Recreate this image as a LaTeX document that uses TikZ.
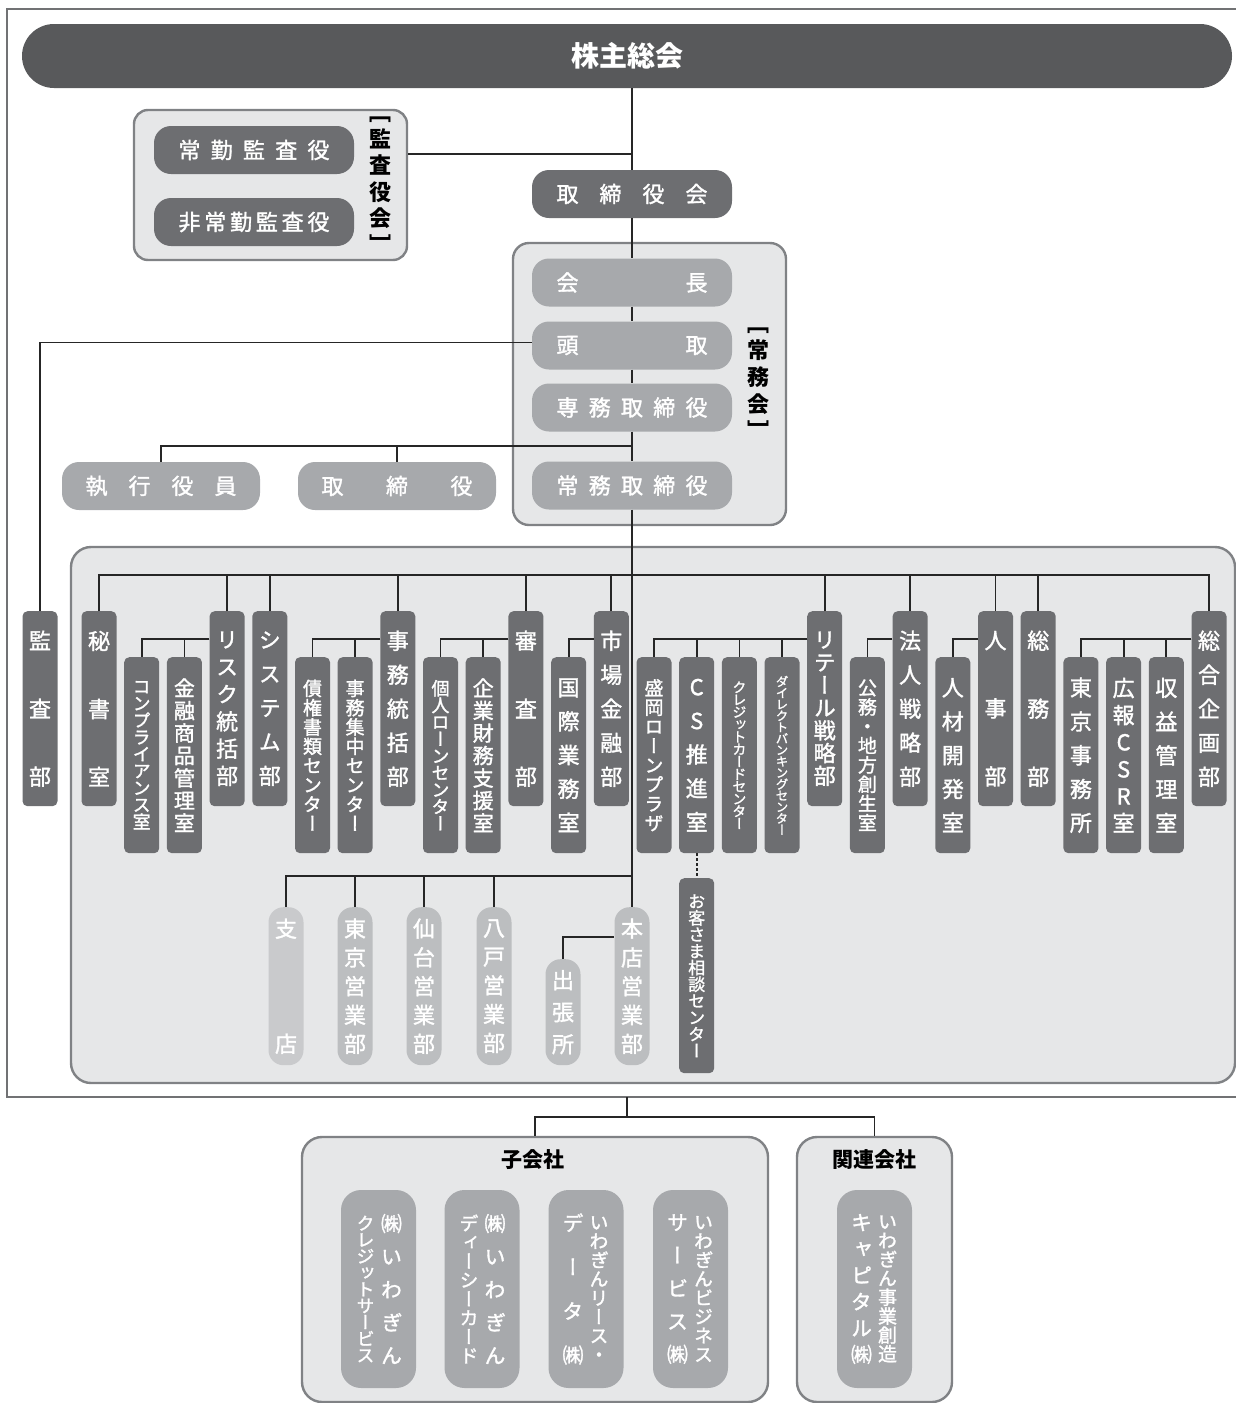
\documentclass[tikz,border=0pt]{standalone}
\usepackage{fontspec}
\setmainfont{Noto Sans CJK JP}[UprightFeatures={FakeBold=1.5}]
\newfontfamily\jpv{Noto Sans CJK JP}[RawFeature=+vert,UprightFeatures={FakeBold=1.5}]
\usetikzlibrary{positioning}

\definecolor{bar}{HTML}{58595B}
\definecolor{dk}{HTML}{6D6E71}
\definecolor{md}{HTML}{A7A9AC}
\definecolor{lt}{HTML}{BCBEC0}
\definecolor{pale}{HTML}{C9CACC}
\definecolor{grp}{HTML}{E6E7E8}
\definecolor{edge}{HTML}{808285}

\lineskiplimit=-100pt
% one vertical column of text: size, line skip, text
\newcommand\vcol[3]{\parbox[c]{22pt}{\centering\fontsize{#1}{#2}\selectfont #3}}

\begin{document}
\begin{tikzpicture}[x=1pt,y=-1pt,
  conn/.style={draw=black!85,line width=1.8},
  grpbox/.style={draw=edge,fill=grp,line width=2.4,rounded corners=16,inner sep=0},
  pill/.style={rounded corners=17,inner sep=0,minimum width=200,minimum height=48,text width=151,align=center,text=white,font=\fontsize{22}{26}\selectfont},
  dept/.style={fill=dk,text=white,rounded corners=5,minimum width=35,inner sep=0,align=center,anchor=north},
  branch/.style={fill=lt,text=white,rounded corners=15,minimum width=35,inner sep=0,align=center,anchor=north},
  vt/.style 2 args={font=\jpv\fontsize{#1}{#2}\selectfont},
  grplabel/.style={inner sep=0,align=center,font=\jpv\bfseries\fontsize{22}{#1}\selectfont},
  company/.style={fill=md,text=white,rounded corners=20,minimum width=75,minimum height=198,inner sep=0,font=\jpv}]
\useasboundingbox (0,0) rectangle (1236,1403);
\draw[line width=1.5,draw=bar!85] (1236,9) -- (7,9) -- (7,1097) -- (1236,1097);

% shareholders and board
\node[fill=bar,text=white,rounded corners=32,minimum width=1210,minimum height=64,font=\bfseries\fontsize{28}{32}\selectfont] (kabunushi) at (627,56) {株主総会};
\node[grpbox,rounded corners=14,minimum width=273,minimum height=150] (kansabox) at (270.5,185) {};
\node[pill,fill=dk] (jokin) at (254,150) {常\hfill 勤\hfill 監\hfill 査\hfill 役};
\node[pill,fill=dk] (hijokin) at (254,222) {非\hfill 常\hfill 勤\hfill 監\hfill 査\hfill 役};
\node[grplabel=26.5] (kansayakukai) at (380,185) {［\\監\\査\\役\\会\\］};
\node[pill,fill=dk] (torikai) at (632,194) {取\hfill 締\hfill 役\hfill 会};

\node[grpbox,minimum width=273,minimum height=282] (jomukai) at (649.5,384) {};
\node[pill,fill=md] (kaicho) at (632,282.5) {会\hfill 長};
\node[pill,fill=md] (todori) at (632,345.5) {頭\hfill 取};
\node[pill,fill=md] (senmu) at (632,407.5) {専\hfill 務\hfill 取\hfill 締\hfill 役};
\node[pill,fill=md] (jomu) at (632,485.5) {常\hfill 務\hfill 取\hfill 締\hfill 役};
\node[grplabel=27] (jomukailabel) at (758,384) {［\\常\\務\\会\\］};
\node[pill,fill=md,minimum width=198] (shikko) at (161,486) {執\hfill 行\hfill 役\hfill 員};
\node[pill,fill=md,minimum width=198] (torishimari) at (397,486) {取\hfill 締\hfill 役};

% departments
\node[grpbox,rounded corners=20,minimum width=1164,minimum height=536] (deptbox) at (653,815) {};
\node[dept,minimum height=195,vt={22}{68}] (kansabu) at (40,611) {監\\査\\部};
\node[dept,minimum height=195,vt={22}{68}] (hisho) at (99,611) {秘\\書\\室};
\node[dept,minimum height=195,vt={22}{27.3}] (risk) at (227.1,611) {リ\\ス\\ク\\統\\括\\部};
\node[dept,minimum height=195,vt={22}{34}] (system) at (269.8,611) {シ\\ス\\テ\\ム\\部};
\node[dept,minimum height=195,vt={22}{34}] (jimu) at (397.8,611) {事\\務\\統\\括\\部};
\node[dept,minimum height=195,vt={22}{68}] (shinsa) at (525.9,611) {審\\査\\部};
\node[dept,minimum height=195,vt={22}{34}] (shijo) at (611.3,611) {市\\場\\金\\融\\部};
\node[dept,minimum height=195,vt={22}{22.7}] (retail) at (824.7,611) {リ\\テ\\ー\\ル\\戦\\略\\部};
\node[dept,minimum height=195,vt={22}{34}] (hojin) at (910.1,611) {法\\人\\戦\\略\\部};
\node[dept,minimum height=195,vt={22}{68}] (jinji) at (995.5,611) {人\\事\\部};
\node[dept,minimum height=195,vt={22}{68}] (somu) at (1038.2,611) {総\\務\\部};
\node[dept,minimum height=195,vt={22}{34}] (kikaku) at (1209,611) {総\\合\\企\\画\\部};

\node[dept,minimum height=196,vt={18}{16.9}] (comp) at (141.7,657) {コ\\ン\\プ\\ラ\\イ\\ア\\ン\\ス\\室};
\node[dept,minimum height=196,vt={21}{22.5}] (kinyu) at (184.4,657) {金\\融\\商\\品\\管\\理\\室};
\node[dept,minimum height=196,vt={19}{19.3}] (saiken) at (312.5,657) {債\\権\\書\\類\\セ\\ン\\タ\\ー};
\node[dept,minimum height=196,vt={19}{19.3}] (shuchu) at (355.1,657) {事\\務\\集\\中\\セ\\ン\\タ\\ー};
\node[dept,minimum height=196,vt={18}{16.9}] (kojin) at (440.5,657) {個\\人\\ロ\\ー\\ン\\セ\\ン\\タ\\ー};
\node[dept,minimum height=196,vt={21}{22.5}] (kigyo) at (483.2,657) {企\\業\\財\\務\\支\\援\\室};
\node[dept,minimum height=196,vt={22}{33.8}] (kokusai) at (568.6,657) {国\\際\\業\\務\\室};
\node[dept,minimum height=196,vt={19}{19.3}] (morioka) at (654,657) {盛\\岡\\ロ\\ー\\ン\\プ\\ラ\\ザ};
\node[dept,minimum height=196,vt={22}{33.8}] (cs) at (696.7,657) {C\\S\\推\\進\\室};
\node[dept,minimum height=196,vt={14}{12.4}] (credit) at (739.4,657) {ク\\レ\\ジ\\ッ\\ト\\カ\\ー\\ド\\セ\\ン\\タ\\ー};
\node[dept,minimum height=196,vt={12.5}{11.4}] (direct) at (782,657) {ダ\\イ\\レ\\ク\\ト\\バ\\ン\\キ\\ン\\グ\\セ\\ン\\タ\\ー};
\node[dept,minimum height=196,vt={19}{19.3}] (komu) at (867.4,657) {公\\務\\・\\地\\方\\創\\生\\室};
\node[dept,minimum height=196,vt={22}{33.8}] (jinzai) at (952.8,657) {人\\材\\開\\発\\室};
\node[dept,minimum height=196,vt={22}{33.8}] (tokyo) at (1080.9,657) {東\\京\\事\\務\\所};
\node[dept,minimum height=196,vt={22}{27}] (koho) at (1123.6,657) {広\\報\\C\\S\\R\\室};
\node[dept,minimum height=196,vt={22}{33.8}] (shueki) at (1166.3,657) {収\\益\\管\\理\\室};

% branches
\node[branch,fill=pale,minimum height=158,vt={22}{115}] (shiten) at (286,907) {支\\店};
\node[branch,minimum height=158,vt={22}{28.8}] (tokyoeig) at (355,907) {東\\京\\営\\業\\部};
\node[branch,minimum height=158,vt={22}{28.8}] (sendai) at (424,907) {仙\\台\\営\\業\\部};
\node[branch,minimum height=158,vt={22}{28.8}] (hachinohe) at (494,907) {八\\戸\\営\\業\\部};
\node[branch,minimum height=106,vt={22}{32}] (shutcho) at (563,959) {出\\張\\所};
\node[branch,minimum height=158,vt={22}{28.8}] (honten) at (632,907) {本\\店\\営\\業\\部};
\node[dept,minimum height=195,vt={17}{16.6}] (okyaku) at (696.7,878) {お\\客\\さ\\ま\\相\\談\\セ\\ン\\タ\\ー};

% group companies
\node[grpbox,rounded corners=20,minimum width=466,minimum height=265] (kogaisha) at (535,1269.5) {};
\node[grpbox,rounded corners=20,minimum width=155,minimum height=265] (kanren) at (874.5,1269.5) {};
\node[font=\bfseries\fontsize{21}{24}\selectfont] (kogaishalabel) at (533,1160) {子会社};
\node[font=\bfseries\fontsize{21}{24}\selectfont] (kanrenlabel) at (874,1160) {関連会社};
\node[company] (credits) at (378.5,1289) {\vcol{18}{16.5}{ク\\レ\\ジ\\ッ\\ト\\サ\\ー\\ビ\\ス}\hspace{4pt}\vcol{21}{33}{㈱\\い\\わ\\ぎ\\ん}};
\node[company] (dccard) at (482,1289) {\vcol{19}{18.9}{デ\\ィ\\ー\\シ\\ー\\カ\\ー\\ド}\hspace{4pt}\vcol{21}{33}{㈱\\い\\わ\\ぎ\\ん}};
\node[company] (lease) at (586,1289) {\vcol{21}{44}{デ\\ー\\タ\\㈱}\hspace{4pt}\vcol{19}{18.9}{い\\わ\\ぎ\\ん\\リ\\ー\\ス\\・}};
\node[company] (business) at (690.5,1289) {\vcol{21}{33}{サ\\ー\\ビ\\ス\\㈱}\hspace{4pt}\vcol{19}{18.9}{い\\わ\\ぎ\\ん\\ビ\\ジ\\ネ\\ス}};
\node[company] (capital) at (874.5,1289) {\vcol{21}{26.4}{キ\\ャ\\ピ\\タ\\ル\\㈱}\hspace{4pt}\vcol{19}{18.9}{い\\わ\\ぎ\\ん\\事\\業\\創\\造}};

% connectors
\draw[conn] (torikai.north |- kabunushi.south) -- (torikai.north);
\draw[conn] ([yshift=31pt]kansabox.east) -- ([yshift=31pt]kansabox.east -| torikai.north);
\draw[conn] (torikai.south) -- (kaicho.north);
\draw[conn] (kaicho.south) -- (todori.north);
\draw[conn] (todori.south) -- (senmu.north);
\draw[conn] (senmu.south) -- (jomu.north);
\draw[conn] (jomu.south) -- (honten.north);
\draw[conn] ([yshift=3pt]todori.west) -| (kansabu.north);
\coordinate (exec) at (632,446);
\draw[conn] (exec) -| (shikko.north);
\draw[conn] (torishimari.north) -- (torishimari.north |- exec);
\coordinate (bus) at (632,575);
\draw[conn] (hisho.north) |- (bus) -| (kikaku.north);
\foreach \n in {risk,system,jimu,shinsa,shijo,retail,hojin,jinji,somu}
  \draw[conn] (\n.north) -- (\n.north |- bus);
\foreach \p/\s in {risk/comp,risk/kinyu,jimu/saiken,jimu/shuchu,shinsa/kojin,shinsa/kigyo,shijo/kokusai,retail/morioka,retail/cs,retail/credit,retail/direct,hojin/komu,jinji/jinzai,kikaku/tokyo,kikaku/koho,kikaku/shueki}
  \draw[conn] ([yshift=-28pt]\p.north west) -| (\s.north);
\coordinate (bbus) at (632,876);
\foreach \b in {shiten,tokyoeig,sendai,hachinohe}
  \draw[conn] (\b.north) |- (bbus);
\draw[conn] (shutcho.north) |- ([yshift=-30pt]honten.north west);
\draw[conn,line width=1.8,dash pattern=on 3pt off 2pt] (cs.south) -- (okyaku.north);
\coordinate (grpout) at (627,1097);
\draw[conn] (grpout) -- ++(0,20) coordinate (sbus);
\draw[conn] (kogaisha.north) |- (sbus) -| (kanren.north);
\end{tikzpicture}
\end{document}
